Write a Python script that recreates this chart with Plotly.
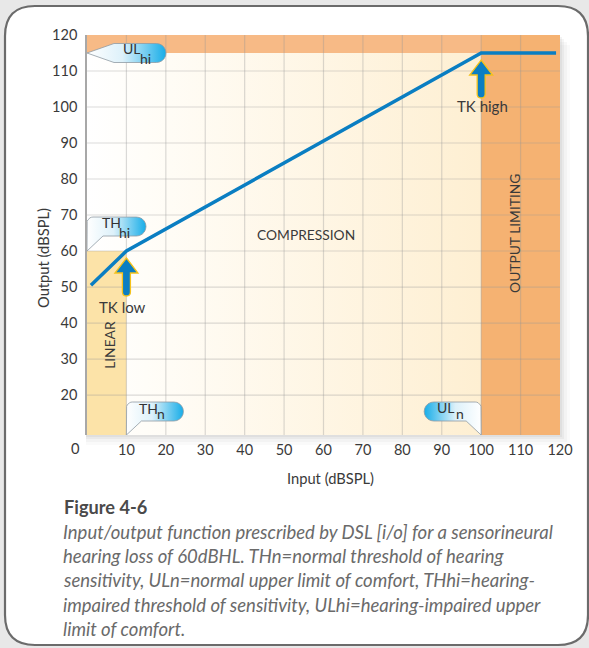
import math
import plotly.graph_objects as go

# ---------------- data ----------------
input_db = [1, 10, 100, 119]          # input level (dB SPL)
output_db = [50.5, 60, 115, 115]      # output level (dB SPL)
tk_low = [10, 60]                     # compression threshold (knee)
tk_high = [100, 115]                  # output limiting knee
x_ticks = [10, 20, 30, 40, 50, 60, 70, 80, 90, 100, 110, 120]
y_ticks = [20, 30, 40, 50, 60, 70, 80, 90, 100, 110, 120]
x_range = [0, 120]
y_range = [8.9, 120]

caption_title = "Figure 4-6"
caption_lines = [
    "Input/output function prescribed by DSL [i/o] for a sensorineural",
    "hearing loss of 60dBHL. THn=normal threshold of hearing",
    "sensitivity, ULn=normal upper limit of comfort, THhi=hearing-",
    "impaired threshold of sensitivity, ULhi=hearing-impaired upper",
    "limit of comfort.",
]

# ---------------- layout geometry ----------------
W, H = 589, 648
L, R, T, B = 87, 29, 35, 213
PW, PH = W - L - R, H - T - B
KX = PW / (x_range[1] - x_range[0])
KY = PH / (y_range[1] - y_range[0])
FONT = "Lato, 'Open Sans', sans-serif"
TXT = "#3a3a3a"


def pxp(px, py):
    return (px - L) / PW, (H - B - py) / PH


def pp(px, py):
    a, b = pxp(px, py)
    return f"{a:.5f},{b:.5f}"


def off(anchor, pts):
    """pixel offsets (x right, y down) -> data coords"""
    return ([anchor[0] + dx / KX for dx, dy in pts],
            [anchor[1] - dy / KY for dx, dy in pts])


def arc(cx, cy, r, a0, a1, n=10):
    return [(cx + r * math.cos(math.radians(a0 + (a1 - a0) * i / n)),
             cy + r * math.sin(math.radians(a0 + (a1 - a0) * i / n))) for i in range(n + 1)]


fig = go.Figure()
ymin, ymax = y_range
xmin, xmax = x_range

# ---------- background regions ----------
fig.add_trace(go.Scatter(
    x=[xmin, tk_high[0], tk_high[0], xmin, xmin], y=[ymin, ymin, tk_high[1], tk_high[1], ymin],
    fill="toself", mode="lines", line=dict(width=0), hoverinfo="skip",
    fillgradient=dict(type="horizontal", colorscale=[[0, "#FFFFFF"], [0.15, "#FFFDF8"], [1, "#FEEFD2"]])))
fig.add_trace(go.Scatter(
    x=[xmin, tk_low[0], tk_low[0], xmin, xmin], y=[ymin, ymin, tk_low[1], tk_low[1], ymin],
    fill="toself", mode="lines", line=dict(width=0), fillcolor="#FCE3A8", hoverinfo="skip"))
fig.add_trace(go.Scatter(
    x=[xmin, xmax, xmax, xmin, xmin], y=[tk_high[1], tk_high[1], ymax, ymax, tk_high[1]],
    fill="toself", mode="lines", line=dict(width=0), fillcolor="#F7BA86", hoverinfo="skip"))
fig.add_trace(go.Scatter(
    x=[tk_high[0], xmax, xmax, tk_high[0], tk_high[0]], y=[ymin, ymin, ymax, ymax, ymin],
    fill="toself", mode="lines", line=dict(width=0), fillcolor="#F5B272", hoverinfo="skip"))

# ---------- grid ----------
gx, gy = [], []
for v in x_ticks[:-1]:
    gx += [v, v, None]
    gy += [ymin, ymax, None]
for v in y_ticks[:-1]:
    gx += [xmin, xmax, None]
    gy += [v, v, None]
fig.add_trace(go.Scatter(x=gx, y=gy, mode="lines", line=dict(color="rgba(150,150,150,0.35)", width=1.2),
                         hoverinfo="skip"))

# ---------- I/O function ----------
fig.add_trace(go.Scatter(x=input_db, y=output_db, mode="lines",
                         line=dict(color="#0A7EC2", width=3.5), hoverinfo="skip"))

# ---------- callouts ----------
def callout(anchor, pts, cs):
    xs, ys = off(anchor, pts + [pts[0]])
    fig.add_trace(go.Scatter(x=xs, y=ys, fill="toself", mode="lines",
                             line=dict(color="#8f9aa3", width=0.8), hoverinfo="skip",
                             fillgradient=dict(type="horizontal", colorscale=cs)))


CS_R = [[0, "#FFFFFF"], [0.45, "#DDF1FA"], [1, "#17ADE8"]]
CS_L = [[0, "#17ADE8"], [0.55, "#DDF1FA"], [1, "#FFFFFF"]]

ulhi = [(0, 0), (27, -9.5), (69.5, -9.5)] + arc(69.5, 0, 9.5, -90, 90) + [(27, 9.5)]
callout([xmin, tk_high[1]], ulhi, CS_R)
thhi = [(0, 0), (0, -28)] + arc(6, -28, 6, 180, 270, 6) + [(49.5, -34)] + arc(49.5, -24.5, 9.5, -90, 90) + [(16, -15)]
callout([xmin, tk_low[1]], thhi, CS_R)
thn = [(0, 0), (0, -27)] + arc(6, -27, 6, 180, 270, 6) + [(47.5, -33)] + arc(47.5, -23.5, 9.5, -90, 90) + [(15, -14)]
callout([tk_low[0], ymin], thn, CS_R)
uln = [(0, 0), (0, -27)] + arc(-6, -27, 6, 0, -90, 6) + [(-47.5, -33)] + arc(-47.5, -23.5, 9.5, 270, 90) + [(-15, -14)]
callout([tk_high[0], ymin], uln, CS_L)

# (text, anchor, dx, dy-down) : main letters and subscripts
callout_text = [
    ("UL", [xmin, tk_high[1]], 45, -5), ("hi", [xmin, tk_high[1]], 58, 5),
    ("TH", [xmin, tk_low[1]], 24, -29), ("hi", [xmin, tk_low[1]], 37.5, -19),
    ("TH", [tk_low[0], ymin], 22.5, -27), ("n", [tk_low[0], ymin], 35, -21.5),
    ("UL", [tk_high[0], ymin], -35, -28), ("n", [tk_high[0], ymin], -21.5, -21.5),
]
ann = []
for txt, a, dx, dy in callout_text:
    ann.append(dict(x=a[0], y=a[1], xref="x", yref="y", text=txt, showarrow=False,
                    xanchor="center", yanchor="middle",
                    xshift=dx, yshift=-dy, font=dict(size=14, color="#333333", family=FONT)))

# ---------- arrows (pixel-sized shapes anchored at knees) ----------
ARROW = "M0,-7 L11.5,-22 L4,-22 L4,-41 Q4,-45 0,-45 Q-4,-45 -4,-41 L-4,-22 L-11.5,-22 Z"

shapes = []
frame = (f"M{pp(5, 36)} Q{pp(5, 6)} {pp(35, 6)} L{pp(558, 6)} Q{pp(588, 6)} {pp(588, 36)} "
         f"L{pp(588, 615)} Q{pp(588, 645)} {pp(558, 645)} L{pp(35, 645)} Q{pp(5, 645)} {pp(5, 615)} Z")
shapes.append(dict(type="path", path=frame, xref="paper", yref="paper", layer="below",
                   fillcolor="white", line=dict(color="#6b6b6b", width=2.2)))
for k, op in [(10, 0.04), (7, 0.05), (4, 0.07), (2, 0.09)]:
    x0, y0 = pxp(87 - 1, 35 + k)
    x1, y1 = pxp(560 + k, 435 + k)
    shapes.append(dict(type="rect", xref="paper", yref="paper", x0=x0, y0=y0, x1=x1, y1=y1,
                       layer="below", fillcolor=f"rgba(120,120,120,{op})", line=dict(width=0)))
for knee in (tk_low, tk_high):
    shapes.append(dict(type="path", xref="x", yref="y", xsizemode="pixel", ysizemode="pixel",
                       xanchor=knee[0], yanchor=knee[1], path=ARROW,
                       fillcolor="#0A7EC2", line=dict(color="#F6C21A", width=1.3), layer="above"))

# ---------- labels ----------
ann += [
    dict(x=tk_low[0], y=tk_low[1], xref="x", yref="y", text="TK low", showarrow=False,
         xshift=-4, yshift=-56, font=dict(size=15, color=TXT, family=FONT)),
    dict(x=tk_high[0], y=tk_high[1], xref="x", yref="y", text="TK high", showarrow=False,
         xshift=1, yshift=-53, font=dict(size=15, color=TXT, family=FONT)),
    dict(x=55.6, y=64.7, xref="x", yref="y", text="COMPRESSION", showarrow=False,
         font=dict(size=13.8, color=TXT, family=FONT)),
    dict(x=5.8, y=33.9, xref="x", yref="y", text="LINEAR", showarrow=False, textangle=-90,
         font=dict(size=13.8, color=TXT, family=FONT)),
    dict(x=108.3, y=65, xref="x", yref="y", text="OUTPUT LIMITING", showarrow=False, textangle=-90,
         font=dict(size=13.8, color=TXT, family=FONT)),
]
for txt, px, py, ang in [("Input (dBSPL)", 330, 478, 0), ("Output (dBSPL)", 43, 258, -90), ("0", 75, 448, 0)]:
    a, b = pxp(px, py)
    ann.append(dict(x=a, y=b, xref="paper", yref="paper", text=txt, showarrow=False, textangle=ang,
                    xanchor="center", yanchor="middle",
                    font=dict(size=14.7, color=TXT, family=FONT)))
a, b = pxp(62, 507)
ann.append(dict(x=a, y=b, xref="paper", yref="paper", xanchor="left", yanchor="middle",
                text=f"<b>{caption_title}</b>",
                showarrow=False, font=dict(size=18.2, color="#4a4a4a", family=FONT)))
for i, line in enumerate(caption_lines):
    a, b = pxp(61, 531.5 + 24.4 * i)
    ann.append(dict(x=a, y=b, xref="paper", yref="paper", xanchor="left", yanchor="middle",
                    text=f"<i>{line}</i>",
                    showarrow=False, font=dict(size=18.5, color="#6a6a6a", family=FONT)))

fig.update_layout(
    width=W, height=H, margin=dict(l=L, r=R, t=T, b=B),
    paper_bgcolor="#E8E8E8", plot_bgcolor="white", showlegend=False,
    shapes=shapes, annotations=ann,
    xaxis=dict(range=x_range, tickvals=x_ticks, showgrid=False, zeroline=False, ticks="",
               ticklabelstandoff=4, tickfont=dict(size=14.5, color=TXT, family=FONT), fixedrange=True),
    yaxis=dict(range=y_range, tickvals=y_ticks, showgrid=False, zeroline=False, ticks="",
               ticklabelstandoff=5, showline=True, linecolor="#A8A8A8", linewidth=1.5,
               tickfont=dict(size=14.5, color=TXT, family=FONT), fixedrange=True),
)

fig.write_html("out.html", config={"displayModeBar": False},
               post_script="document.body.style.margin='0';document.body.style.overflow='hidden';")
